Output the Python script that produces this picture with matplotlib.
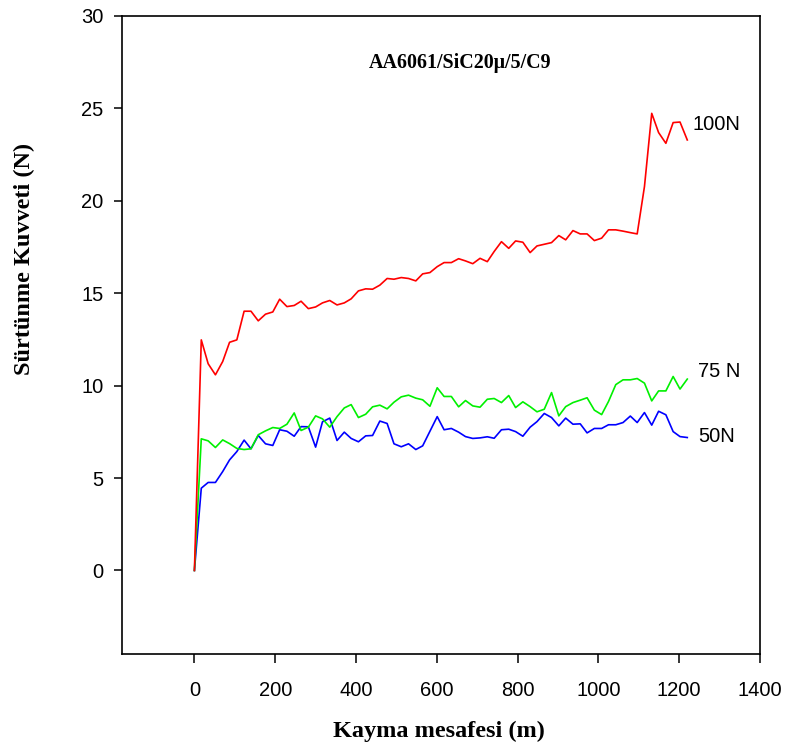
import matplotlib
matplotlib.use("Agg")
import matplotlib.pyplot as plt

# Sliding distance (m) at each recorded sample
distance = [0, 17, 34, 52, 70, 87, 105, 123, 140, 158,
            176, 194, 211, 229, 247, 264, 282, 300, 317, 335,
            353, 371, 388, 406, 424, 441, 459, 477, 494, 512,
            530, 548, 565, 583, 601, 618, 636, 654, 671, 689,
            707, 725, 742, 760, 778, 795, 813, 831, 848, 866,
            884, 902, 919, 937, 955, 972, 990, 1008, 1025, 1043,
            1061, 1079, 1096, 1114, 1132, 1149, 1167, 1185, 1202, 1220]

# Friction force (N) under each normal load
force_100n = [0, 12.47, 11.18, 10.58, 11.3, 12.34, 12.47, 14.02, 14.02, 13.5,
              13.86, 13.98, 14.67, 14.27, 14.33, 14.56, 14.16, 14.25, 14.47, 14.6,
              14.36, 14.47, 14.69, 15.12, 15.23, 15.21, 15.43, 15.79, 15.75, 15.84,
              15.79, 15.66, 16.04, 16.11, 16.43, 16.65, 16.65, 16.86, 16.74, 16.59,
              16.88, 16.7, 17.25, 17.78, 17.42, 17.82, 17.75, 17.19, 17.55, 17.64,
              17.73, 18.11, 17.88, 18.38, 18.2, 18.2, 17.84, 17.97, 18.42, 18.42,
              18.35, 18.27, 18.2, 20.76, 24.72, 23.68, 23.1, 24.22, 24.25, 23.28]

force_75n = [0, 7.12, 7.01, 6.65, 7.06, 6.86, 6.6, 6.54, 6.58, 7.34,
             7.55, 7.73, 7.68, 7.91, 8.52, 7.57, 7.75, 8.36, 8.2, 7.75,
             8.32, 8.79, 8.97, 8.27, 8.45, 8.85, 8.94, 8.74, 9.1, 9.39,
             9.48, 9.32, 9.23, 8.88, 9.88, 9.41, 9.41, 8.85, 9.19, 8.9,
             8.83, 9.26, 9.3, 9.08, 9.46, 8.81, 9.12, 8.86, 8.58, 8.72,
             9.62, 8.36, 8.86, 9.08, 9.21, 9.34, 8.67, 8.43, 9.14, 10.05,
             10.31, 10.31, 10.38, 10.13, 9.17, 9.71, 9.71, 10.49, 9.81, 10.35]

force_50n = [0, 4.45, 4.76, 4.76, 5.35, 5.98, 6.43, 7.05, 6.58, 7.3,
             6.85, 6.76, 7.61, 7.53, 7.26, 7.78, 7.77, 6.67, 8.04, 8.24,
             7.03, 7.48, 7.14, 6.96, 7.28, 7.3, 8.08, 7.95, 6.85, 6.69,
             6.85, 6.54, 6.74, 7.53, 8.32, 7.61, 7.68, 7.48, 7.24, 7.14,
             7.17, 7.23, 7.15, 7.61, 7.64, 7.51, 7.26, 7.75, 8.05, 8.49,
             8.27, 7.82, 8.24, 7.91, 7.93, 7.44, 7.68, 7.68, 7.88, 7.88,
             8.0, 8.35, 8.0, 8.54, 7.86, 8.61, 8.42, 7.51, 7.24, 7.19]

x_ticks = [0, 200, 400, 600, 800, 1000, 1200, 1400]
y_ticks = [0, 5, 10, 15, 20, 25, 30]

title_text = "AA6061/SiC20\u03bc/5/C9"
x_label = "Kayma mesafesi (m)"
y_label = "Sürtünme Kuvveti (N)"

W, H = 785, 747
fig = plt.figure(figsize=(W / 100, H / 100), dpi=100)
left, right, top, bottom = 121.7, 760.0, 15.7, 653.7
ax = fig.add_axes([left / W, 1 - bottom / H, (right - left) / W, (bottom - top) / H])

ax.plot(distance, force_50n, color="#0000ff", lw=1.2)
ax.plot(distance, force_75n, color="#00f000", lw=1.2)
ax.plot(distance, force_100n, color="#ff0000", lw=1.2)

ax.set_xlim(-180, 1400)
ax.set_ylim(-4.5, 30)
ax.set_xticks(x_ticks)
ax.set_yticks(y_ticks)

sans = ["Liberation Sans", "DejaVu Sans"]
serif = ["Liberation Serif", "DejaVu Serif"]

ax.set_xticklabels([str(v) for v in x_ticks], fontsize=14.5, family=sans)
ax.set_yticklabels([str(v) for v in y_ticks], fontsize=14.5, family=sans)
ax.tick_params(axis="x", direction="out", length=6.5, width=1.1, pad=13, top=False)
ax.tick_params(axis="y", direction="out", length=6, width=1.1, pad=7, right=False)
for sp in ax.spines.values():
    sp.set_linewidth(1.2)

ax.text(1232, 24.1, "100N", fontsize=14.5, family=sans, va="center", ha="left")
ax.text(1247, 10.76, "75 N", fontsize=14.5, family=sans, va="center", ha="left")
ax.text(1247, 7.24, "50N", fontsize=14.5, family=sans, va="center", ha="left")

ax.text(657, 27.45, title_text, fontsize=14.4, family=serif, weight="bold",
        ha="center", va="center")

fig.text(439 / W, 1 - 731 / H, x_label, fontsize=17.5, family=serif, weight="bold",
         ha="center", va="center")
fig.text(24 / W, 1 - 259 / H, y_label, fontsize=17.5, family=serif, weight="bold",
         ha="center", va="center", rotation=90)

fig.savefig("out.png", dpi=100)
